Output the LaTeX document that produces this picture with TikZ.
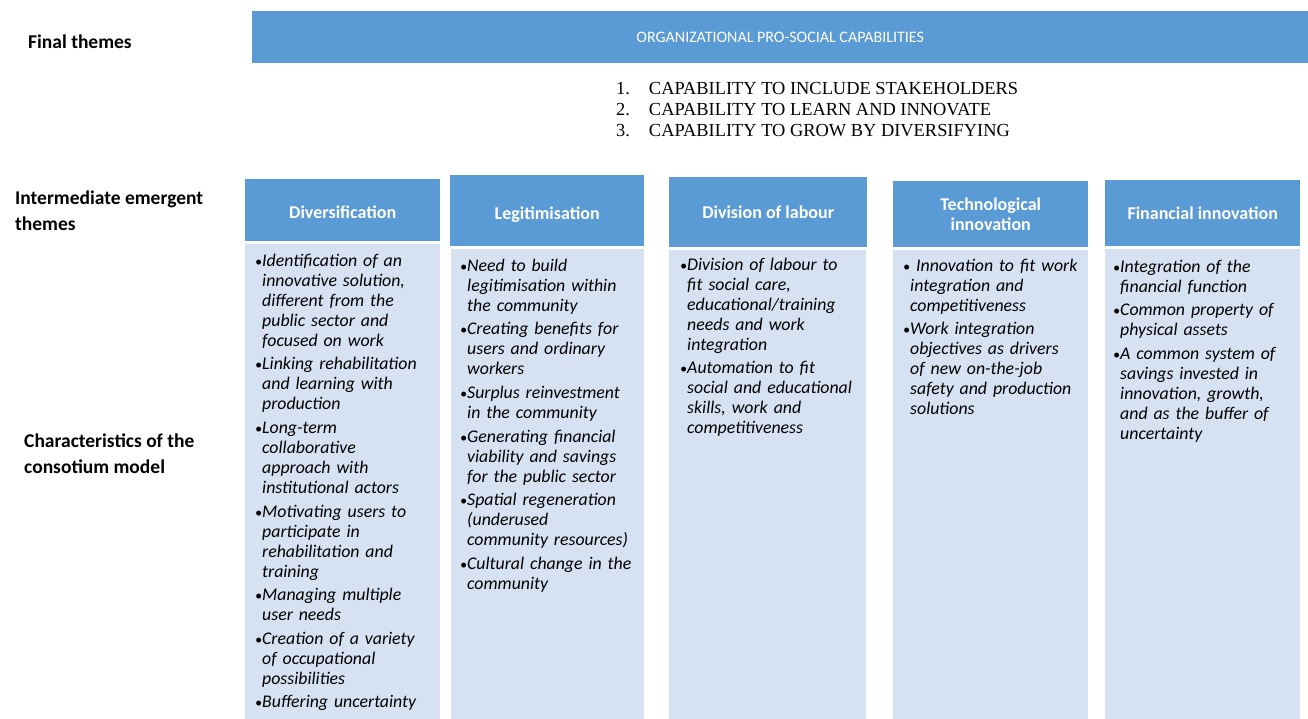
\documentclass[tikz,border=0pt]{standalone}
\usepackage{fontspec}
\setmainfont{Carlito}
\newfontfamily\timesfont{Liberation Serif}
\usetikzlibrary{positioning}

\definecolor{hdblue}{HTML}{5B9BD5}
\definecolor{bodyblue}{HTML}{D6E1F2}

\newcommand{\itm}[1]{\par\begingroup\let\\\newline
  \hangindent=7pt\hangafter=1\noindent
  \makebox[7pt][l]{\fontsize{14}{14}\selectfont\textbullet}#1\par\endgroup}

\tikzset{
  head/.style={fill=hdblue,anchor=north west,inner sep=0pt,text=white,
    align=center,font=\fontsize{18}{20}\selectfont\bfseries},
  body/.style={fill=bodyblue,anchor=north west,inner sep=0pt},
  txt/.style={anchor=north west,inner sep=0pt,text width=188pt,align=left,
    font=\fontsize{17.8}{20}\selectfont\itshape,
    execute at begin node={\setlength{\parskip}{3.6pt}}},
  side/.style={anchor=west,inner sep=0pt,align=left,
    font=\fontsize{19.5}{26}\selectfont\bfseries},
}

\begin{document}
\begin{tikzpicture}[x=1pt,y=-1pt]
\useasboundingbox (0,0) rectangle (1308,718);

% final theme banner
\node[head,minimum width=1056pt,minimum height=52pt,
  font=\fontsize{16}{18}\selectfont](banner) at (252,11) {ORGANIZATIONAL PRO-SOCIAL CAPABILITIES};
\node[anchor=north west,inner sep=0pt,align=left,
  font=\timesfont\fontsize{18.4}{21}\selectfont](caps) at (616,82)
  {1.\hspace{19pt}CAPABILITY TO INCLUDE STAKEHOLDERS\\
   2.\hspace{19pt}CAPABILITY TO LEARN AND INNOVATE\\
   3.\hspace{19pt}CAPABILITY TO GROW BY DIVERSIFYING};

% row labels
\node[side](lfinal) at (28,42) {Final themes};
\node[side](linter) at (15,211) {Intermediate emergent\\themes};
\node[side](lchar) at (24,454) {Characteristics of the\\consotium model};

% intermediate themes
\node[head,minimum width=195pt,minimum height=62pt](divh) at (245,179) {\raisebox{-2pt}[\height][\depth]{Diversification}};
\node[head,minimum width=194pt,minimum height=71pt](legh) at (450,175) {\raisebox{-4pt}[\height][\depth]{Legitimisation}};
\node[head,minimum width=198pt,minimum height=70pt](labh) at (669,177) {Division of labour};
\node[head,minimum width=195pt,minimum height=66pt](techh) at (893,181) {Technological\\innovation};
\node[head,minimum width=195pt,minimum height=66pt](finh) at (1105,180) {Financial innovation};

\node[body,minimum width=195pt,minimum height=475pt,below=2pt of divh.south west,anchor=north west](divb) {};
\node[body,minimum width=193pt,minimum height=470pt,below=2pt of legh.south west,xshift=1pt,anchor=north west](legb) {};
\node[body,minimum width=197pt,minimum height=469pt,below=2pt of labh.south west,anchor=north west](labb) {};
\node[body,minimum width=195pt,minimum height=469pt,below=2pt of techh.south west,anchor=north west](techb) {};
\node[body,minimum width=195pt,minimum height=470pt,below=2pt of finh.south west,anchor=north west](finb) {};

% characteristics
\node[txt](divt) at ([xshift=10pt,yshift=1pt]divb.north west) {%
\itm{Identification of an\\innovative solution,\\different from the\\public sector and\\focused on work}
\itm{Linking rehabilitation\\and learning with\\production}
\itm{Long-term\\collaborative\\approach with\\institutional actors}
\itm{Motivating users to\\participate in\\rehabilitation and\\training}
\itm{Managing multiple\\user needs}
\itm{Creation of a variety\\of occupational\\possibilities}
\itm{Buffering uncertainty}};

\node[txt](legt) at ([xshift=9pt,yshift=1pt]legb.north west) {%
\itm{Need to build\\legitimisation within\\the community}
\itm{Creating benefits for\\users and ordinary\\workers}
\itm{Surplus reinvestment\\in the community}
\itm{Generating financial\\viability and savings\\for the public sector}
\itm{Spatial regeneration\\(underused\\community resources)}
\itm{Cultural change in the\\community}};

\node[txt](labt) at ([xshift=11pt,yshift=3pt]labb.north west) {%
\itm{Division of labour to\\fit social care,\\educational/training\\needs and work\\integration}
\itm{Automation to fit\\social and educational\\skills, work and\\competitiveness}};

\node[txt](techt) at ([xshift=10pt,yshift=2pt]techb.north west) {%
\itm{ Innovation to fit work\\integration and\\competitiveness}
\itm{Work integration\\objectives as drivers\\of new on-the-job\\safety and production\\solutions}};

\node[txt](fint) at ([xshift=8pt,yshift=0pt]finb.north west) {%
\itm{Integration of the\\financial function}
\itm{Common property of\\physical assets}
\itm{A common system of\\savings invested in\\innovation, growth,\\and as the buffer of\\uncertainty}};

\end{tikzpicture}
\end{document}
